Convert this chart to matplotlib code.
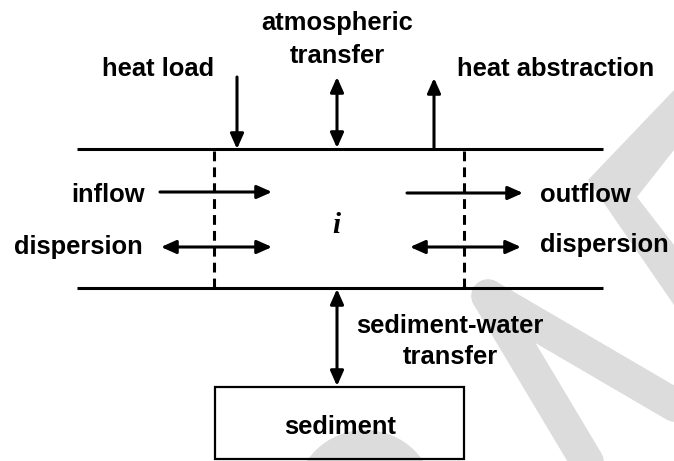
import matplotlib
matplotlib.use("Agg")
import matplotlib.pyplot as plt
from matplotlib.patches import Polygon, Wedge, Rectangle, FancyArrowPatch

# Labels of the heat balance sketch for segment i (pixel coords, y down)
top_labels = ["atmospheric", "transfer", "heat load", "heat abstraction"]
side_labels = ["inflow", "dispersion", "outflow", "dispersion"]
bottom_labels = ["sediment-water", "transfer", "sediment"]
segment_name = "i"

# arrows: (x0, y0, x1, y1, style)
arrows = [
    (237, 77, 237, 149, "-|>"),      # heat load
    (337, 77, 337, 148, "<|-|>"),    # atmospheric transfer
    (434, 149, 434, 78, "-|>"),      # heat abstraction
    (160, 192, 272, 192, "-|>"),     # inflow
    (407, 193, 523, 193, "-|>"),     # outflow
    (161, 247, 272, 247, "<|-|>"),   # dispersion left
    (410, 247, 521, 247, "<|-|>"),   # dispersion right
    (337, 289, 337, 386, "<|-|>"),   # sediment-water transfer
]

W, H = 674, 461
fig = plt.figure(figsize=(W / 100, H / 100), dpi=100)
ax = fig.add_axes([0, 0, 1, 1])
ax.set_xlim(0, W)
ax.set_ylim(H, 0)
ax.axis("off")

# light grey watermark strokes in the background
grey = "#dcdcdc"
ax.add_patch(Polygon([(674, 90), (588, 180), (674, 305), (674, 245),
                      (637, 197), (674, 150)], closed=True, fc=grey, ec="none", zorder=0))
ax.plot([488, 592], [296, 470], color=grey, lw=24, solid_capstyle="round", zorder=0)
ax.plot([488, 690], [296, 414], color=grey, lw=24, solid_capstyle="round", zorder=0)
ax.add_patch(Wedge((365, 500), 70, 0, 360, width=40, fc=grey, ec="none", zorder=0))

# segment boundaries
ax.plot([77, 603], [149, 149], color="black", lw=2.2, solid_capstyle="butt")
ax.plot([77, 603], [288, 288], color="black", lw=2.2, solid_capstyle="butt")
for xd in [214, 464]:
    ax.plot([xd, xd], [151, 288], color="black", lw=2.2, ls=(0, (3.2, 2.0)))

# sediment box
ax.add_patch(Rectangle((215, 387), 249, 72, fc="none", ec="black", lw=1.6, zorder=2))

for x0, y0, x1, y1, st in arrows:
    ax.add_patch(FancyArrowPatch((x0, y0), (x1, y1),
                                 arrowstyle=st + ",head_length=0.45,head_width=0.2",
                                 mutation_scale=20, color="black", lw=2.2,
                                 shrinkA=0, shrinkB=0, zorder=3))

font = dict(family=["Liberation Sans", "DejaVu Sans"], fontsize=18.4, fontweight="bold")
ax.text(337, 30, top_labels[0], ha="center", va="baseline", **font)
ax.text(337, 63, top_labels[1], ha="center", va="baseline", **font)
ax.text(158, 76, top_labels[2], ha="center", va="baseline", **font)
ax.text(457, 76, top_labels[3], ha="left", va="baseline", **font)

ax.text(145, 202, side_labels[0], ha="right", va="baseline", **font)
ax.text(143, 254, side_labels[1], ha="right", va="baseline", **font)
ax.text(540, 202, side_labels[2], ha="left", va="baseline", **font)
ax.text(540, 252, side_labels[3], ha="left", va="baseline", **font)

ax.text(450, 333, bottom_labels[0], ha="center", va="baseline", **font)
ax.text(450, 364, bottom_labels[1], ha="center", va="baseline", **font)
ax.text(340, 434, bottom_labels[2], ha="center", va="baseline", zorder=4, **font)

ax.text(336, 233, segment_name, ha="center", va="baseline", fontsize=21,
        family=["Liberation Serif", "DejaVu Serif"], fontstyle="italic", fontweight="bold")

fig.savefig("out.png", dpi=100)
